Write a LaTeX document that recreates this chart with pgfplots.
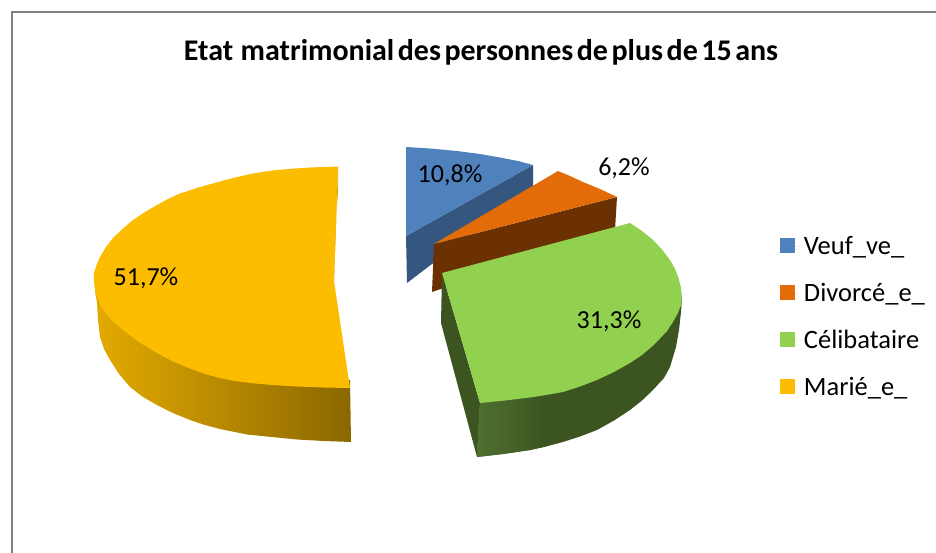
\documentclass[border=0pt]{standalone}
\usepackage{pgfplots}
\pgfplotsset{compat=1.18}
\usepackage{fontspec}
\setmainfont{Carlito}
\definecolor{bl}{HTML}{4F81BD}\definecolor{bld}{HTML}{34567F}
\definecolor{or}{HTML}{E36C09}\definecolor{ord}{HTML}{6B3103}
\definecolor{gr}{HTML}{92D050}\definecolor{grd}{HTML}{3C5420}\definecolor{grl}{HTML}{4F7030}
\definecolor{go}{HTML}{FCBD00}
\begin{document}
\begin{tikzpicture}
\path (0,0) rectangle (936pt,553pt);
\begin{axis}[
  scale only axis, width=936pt, height=553pt, hide axis,
  xmin=0, xmax=936, ymin=0, ymax=553, y dir=reverse, no markers,
  legend style={draw=none, fill=none, at={(0.8333,0.576)}, anchor=north west, inner sep=0pt, outer sep=0pt,
    font=\fontsize{26.5}{30}\selectfont, row sep=23pt, cells={anchor=west}},
  legend cell align=left,
  legend image code/.code={\fill[#1] (0pt,-7pt) rectangle (15pt,8pt);\path (0pt,0pt) -- (22pt,0pt);},
]
% frame
\addplot[draw=black!50, line width=2pt, forget plot] coordinates {(12,553) (12,12) (936,12)};
% blue
\addplot[draw=none, fill=bld, forget plot] coordinates {(406,236) (533,165) (533,187) (407,283)};
\addplot[draw=none, fill=bl] coordinates {(406,236) (406,147) (430,148.5) (457,151) (480,154) (500,157.5) (518,161) (533,165)};
\addlegendentry{Veuf\_ve\_}
% orange
\addplot[draw=none, fill=ord, forget plot] coordinates {(434,244) (617,197) (615,230) (432,292)};
\addplot[draw=none, fill=or] coordinates {(434,244) (558,171) (570,176) (583,182) (600,189) (617,197)};
\addlegendentry{Divorcé\_e\_}
% green side
\addplot[draw=none, fill=grd, forget plot] coordinates {(442,273) (480,403) (477,457) (441,323)};
\addplot[draw=none, fill=grd, forget plot] coordinates {(682,297) (681,312) (679,330) (676,347) (670,367) (664,378) (653,390) (642,400.5) (630,410) (614,420.5) (597,430) (580,436.5) (563,442) (546,446.5) (530,450) (503,454) (477,457) (480,400) (600,370)};
\addplot[draw=none, left color=grl, right color=grd, forget plot] coordinates {(480,400) (540,390) (546,446.5) (530,450) (503,454) (477,457)};
\addplot[draw=none, fill=gr] coordinates {(442,273) (630,223) (642,231) (653,240) (662,249.5) (670,260) (675,269) (678.5,278) (681,288) (682,297) (681,305) (678,313) (673,322) (667,331) (660,338.5) (652,346.5) (642,355) (630,363) (614,372) (597,380) (580,386.5) (563,392) (546,395) (530,397.5) (505,400.5) (480,403)};
\addlegendentry{Célibataire}
% gold sides
\addplot[draw=none, fill=go!80!black, forget plot] coordinates {(338,167) (338,190) (335,235) (334,281)};
\addplot[draw=none, left color=go!90!black, right color=go!55!black, forget plot] coordinates {(95,290) (123,325) (190,360) (350,380) (351,442) (324,441) (297,439.5) (272,437) (247,434.5) (220,429) (205,425) (190,420) (173,413) (157,405) (143,397) (130,387) (119,374) (110,360) (104,349) (100,337) (98,320) (97,303)};
\addplot[draw=none, fill=go] coordinates {(334,281) (338,166.5) (325,167) (310,167.5) (295,168.5) (277,170) (265,171.5) (253,173.5) (235,177.5) (220,181.5) (200,187) (180,193.5) (168,199) (157,205) (145,212) (133,220) (123,228.5) (113,238) (106,247) (100,257) (96.5,265) (94,273) (93.8,281) (95,290) (98,300) (103,310) (112,320.5) (123,330) (139,342) (157,353) (173,361.5) (190,368.5) (205,374) (220,378) (235,381) (250,383) (272,385) (297,386.5) (323,387.5) (350,388)};
\addlegendentry{Marié\_e\_}
\node[font=\fontsize{30}{34}\selectfont\bfseries] at (axis cs:481,52) {\spaceskip=3.5pt Etat\hspace{4pt} matrimonial des personnes de plus de 15 ans};
\node[font=\fontsize{26}{30}\selectfont] at (axis cs:450,175) {10,8\%};
\node[font=\fontsize{26}{30}\selectfont] at (axis cs:624,168) {6,2\%};
\node[font=\fontsize{26}{30}\selectfont] at (axis cs:609,321) {31,3\%};
\node[font=\fontsize{26}{30}\selectfont] at (axis cs:146,278) {51,7\%};
\end{axis}
\end{tikzpicture}
\end{document}
